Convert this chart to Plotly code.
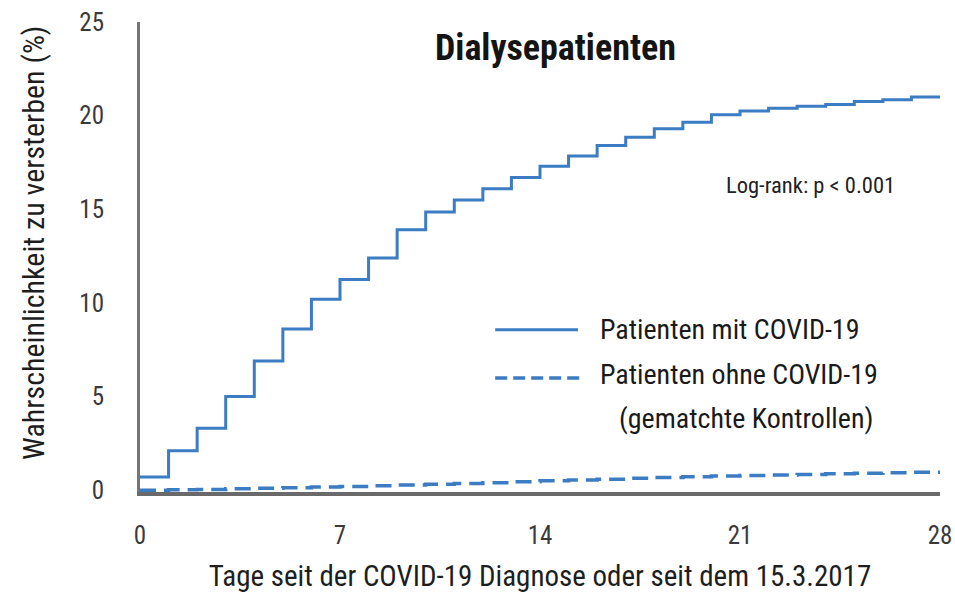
import plotly.graph_objects as go

days = list(range(0, 29))
covid = [0.7, 2.1, 3.3, 5.0, 6.9, 8.6, 10.2, 11.25, 12.4, 13.9, 14.85, 15.5, 16.1, 16.7,
         17.3, 17.85, 18.4, 18.85, 19.3, 19.65, 20.05, 20.25, 20.4, 20.5, 20.6, 20.75, 20.85, 21.0, 21.0]
kontrolle = [0.0, 0.02, 0.04, 0.07, 0.1, 0.13, 0.17, 0.2, 0.24, 0.28, 0.32, 0.36, 0.4, 0.45,
             0.5, 0.54, 0.58, 0.63, 0.67, 0.71, 0.75, 0.78, 0.81, 0.84, 0.87, 0.9, 0.93, 0.96, 1.0]
x_ticks = [0, 7, 14, 21, 28]
y_ticks = [0, 5, 10, 15, 20, 25]

FONT = "Roboto Condensed, Liberation Sans Narrow, DejaVu Sans Condensed, sans-serif"
BLUE = "#3b7cc2"

fig = go.Figure()
fig.add_trace(go.Scatter(x=days, y=covid, mode="lines", line=dict(shape="hv", color=BLUE, width=3),
                         name="Patienten mit COVID-19", showlegend=False))
fig.add_trace(go.Scatter(x=days, y=kontrolle, mode="lines",
                         line=dict(shape="hv", color=BLUE, width=3.5, dash="16px,8px"),
                         name="Patienten ohne COVID-19 (gematchte Kontrollen)", showlegend=False))

fig.update_layout(
    width=955, height=600,
    margin=dict(l=140, r=15, t=22, b=108),
    paper_bgcolor="white", plot_bgcolor="white",
    font=dict(family=FONT, color="#222"),
    xaxis=dict(range=[0, 28], tickvals=x_ticks, showgrid=False, zeroline=False, automargin=False,
               showline=True, linecolor="#6a6a6a", linewidth=4,
               tickfont=dict(size=25, color="#3a3a3a"), ticklabelstandoff=18,
               title=dict(text="Tage seit der COVID-19 Diagnose oder seit dem 15.3.2017",
                          font=dict(size=29, color="#1e1e1e"), standoff=18)),
    yaxis=dict(range=[-0.1, 25], tickvals=y_ticks, showgrid=False, zeroline=False, automargin=False,
               showline=True, linecolor="#767676", linewidth=3,
               tickfont=dict(size=25, color="#3a3a3a"), ticklabelstandoff=28),
)

fig.add_annotation(text="Wahrscheinlichkeit zu versterben (%)", xref="paper", yref="paper",
                   x=-0.1325, y=0.53, textangle=-90, showarrow=False,
                   font=dict(size=30, color="#1e1e1e"), xanchor="center", yanchor="middle")
fig.add_annotation(text="<b>Dialysepatienten</b>", xref="paper", yref="paper", x=0.519, y=0.945,
                   showarrow=False, font=dict(size=36, color="#141414"), xanchor="center", yanchor="middle")
fig.add_annotation(text="Log-rank: p < 0.001", xref="paper", yref="paper", x=0.8375, y=0.653,
                   showarrow=False, font=dict(size=22.5, color="#222"), xanchor="center", yanchor="middle")

leg_font = dict(size=28, color="#1a1a1a")
fig.add_annotation(text="Patienten mit COVID-19", xref="paper", yref="paper", x=0.5725, y=0.345,
                   showarrow=False, font=leg_font, xanchor="left", yanchor="middle")
fig.add_annotation(text="Patienten ohne COVID-19", xref="paper", yref="paper", x=0.5725, y=0.249,
                   showarrow=False, font=leg_font, xanchor="left", yanchor="middle")
fig.add_annotation(text="(gematchte Kontrollen)", xref="paper", yref="paper", x=0.596, y=0.157,
                   showarrow=False, font=leg_font, xanchor="left", yanchor="middle")
fig.add_shape(type="line", xref="paper", yref="paper", x0=0.444, x1=0.5475, y0=0.345, y1=0.345,
              line=dict(color=BLUE, width=3))
fig.add_shape(type="line", xref="paper", yref="paper", x0=0.444, x1=0.55, y0=0.2426, y1=0.2426,
              line=dict(color=BLUE, width=3.5, dash="12px,6px"))

fig.write_html("out.html", config={"displayModeBar": False},
               post_script="document.body.style.margin='0px';document.body.style.overflow='hidden';")
